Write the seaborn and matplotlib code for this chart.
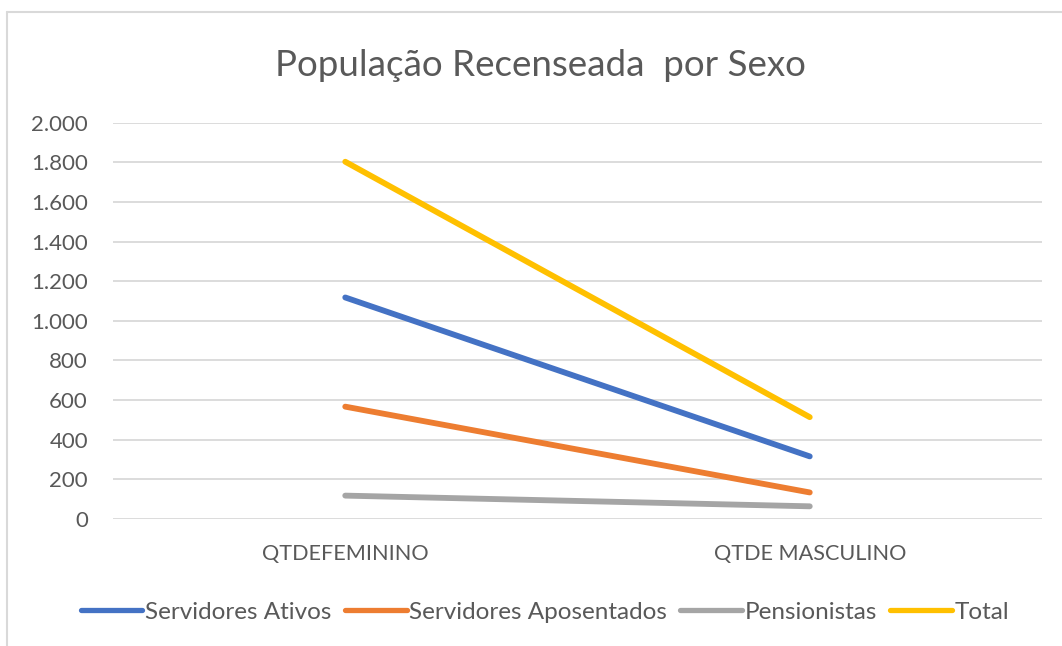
import matplotlib
matplotlib.use("Agg")
import matplotlib.pyplot as plt
import matplotlib.ticker as mticker
from matplotlib.lines import Line2D
import seaborn as sns
import pandas as pd

categories = ["QTDEFEMININO", "QTDE MASCULINO"]
series_names = ["Servidores Ativos", "Servidores Aposentados", "Pensionistas", "Total"]
ativos = [1118, 316]
aposentados = [567, 134]
pensionistas = [118, 64]
total = [1803, 514]
colors = ["#4472C4", "#ED7D31", "#A5A5A5", "#FFC000"]
title = "População Recenseada  por Sexo"

rows = []
for name, vals in zip(series_names, [ativos, aposentados, pensionistas, total]):
    for i, (c, v) in enumerate(zip(categories, vals)):
        rows.append({"serie": name, "x": i, "cat": c, "valor": v})
df = pd.DataFrame(rows)

sns.set_theme(style="white")
plt.rcParams["font.family"] = ["Lato", "DejaVu Sans"]

fig = plt.figure(figsize=(10.62, 6.46), dpi=100)
ax = fig.add_axes([113 / 1062, 127 / 646, (1042 - 113) / 1062, (519 - 122.7) / 646])

sns.lineplot(data=df, x="x", y="valor", hue="serie", hue_order=series_names,
             palette=colors, linewidth=4.2, ax=ax, legend=False,
             solid_capstyle="round")

ax.set_xlim(-0.5, 1.5)
ax.set_ylim(0, 2000)
ax.set_yticks(range(0, 2001, 200))
ax.yaxis.set_major_formatter(mticker.FuncFormatter(lambda v, p: f"{int(v):,}".replace(",", ".")))
ax.set_xticks([0, 1])
ax.set_xticklabels(categories)
ax.set_xlabel("")
ax.set_ylabel("")
ax.grid(axis="y", color="#D9D9D9", linewidth=1.3)
ax.set_axisbelow(True)
for s in ax.spines.values():
    s.set_visible(False)
ax.tick_params(axis="both", length=0, colors="#595959")
ax.tick_params(axis="y", pad=18, labelsize=16)
ax.tick_params(axis="x", pad=18, labelsize=15.6)

fig.text(540 / 1062, 1 - 65 / 646, title, ha="center", va="center", fontsize=26.5, color="#595959")

handles = [Line2D([0], [0], color=c, linewidth=3.8, solid_capstyle="round") for c in colors]
fig.legend(handles, series_names, loc="center", bbox_to_anchor=(545 / 1062, 1 - 612 / 646),
           ncol=4, frameon=False, fontsize=17.5, labelcolor="#595959",
           handlelength=2.55, handletextpad=0.1, columnspacing=0.55)

# chart border (left and top)
fig.add_artist(Line2D([7 / 1062, 7 / 1062], [1 - 12 / 646, 0], transform=fig.transFigure,
                      color="#D9D9D9", linewidth=1.5))
fig.add_artist(Line2D([7 / 1062, 1], [1 - 12 / 646, 1 - 12 / 646], transform=fig.transFigure,
                      color="#D9D9D9", linewidth=1.5))

fig.savefig("out.png", dpi=100, facecolor="white")
